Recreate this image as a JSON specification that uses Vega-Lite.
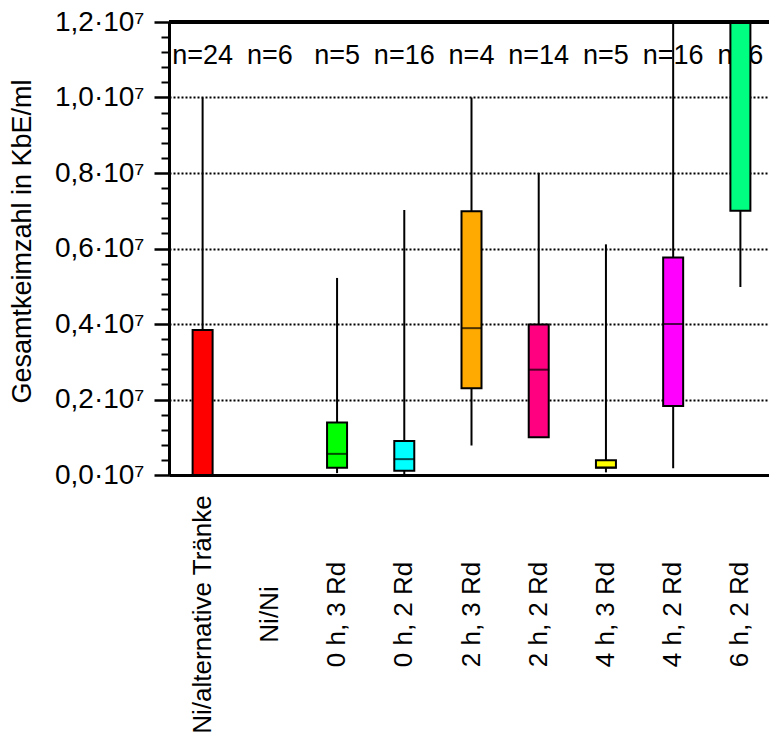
{
  "$schema": "https://vega.github.io/schema/vega-lite/v6.json",
  "autosize": "none",
  "padding": {"left": 169, "top": 22, "right": 0, "bottom": 259},
  "width": 600,
  "height": 453,
  "background": "white",
  "config": {
    "font": "Liberation Sans",
    "view": {"stroke": null},
    "axis": {"labelFont": "Liberation Sans", "titleFont": "Liberation Sans", "labelColor": "black", "titleColor": "black"},
    "axisX": {
      "labelAngle": -90, "labelAlign": "center", "labelBaseline": "middle",
      "ticks": false, "labelPadding": 139, "labelFontSize": 26,
      "domainColor": "black", "domainWidth": 3, "grid": false, "title": null, "labelLimit": 400
    }
  },
  "data": {
    "values": [
      {"group": "Ni/alternative Tränke", "lower": 0, "q1": 0, "median": 0, "q3": 3840000, "upper": 10000000, "n": "n=24"},
      {"group": "Ni/Ni", "lower": 0, "q1": 0, "median": 0, "q3": 0, "upper": 0, "n": "n=6"},
      {"group": "0 h, 3 Rd", "lower": 50000, "q1": 190000, "median": 560000, "q3": 1390000, "upper": 5220000, "n": "n=5"},
      {"group": "0 h, 2 Rd", "lower": 20000, "q1": 110000, "median": 420000, "q3": 900000, "upper": 7020000, "n": "n=16"},
      {"group": "2 h, 3 Rd", "lower": 780000, "q1": 2300000, "median": 3890000, "q3": 6990000, "upper": 10000000, "n": "n=4"},
      {"group": "2 h, 2 Rd", "lower": 1000000, "q1": 1000000, "median": 2790000, "q3": 3990000, "upper": 8000000, "n": "n=14"},
      {"group": "4 h, 3 Rd", "lower": 70000, "q1": 190000, "median": 200000, "q3": 390000, "upper": 6110000, "n": "n=5"},
      {"group": "4 h, 2 Rd", "lower": 180000, "q1": 1830000, "median": 4000000, "q3": 5760000, "upper": 13000000, "n": "n=16"},
      {"group": "6 h, 2 Rd", "lower": 4980000, "q1": 7000000, "median": 13000000, "q3": 14000000, "upper": 16000000, "n": "n=6"}
    ]
  },
  "resolve": {"axis": {"y": "independent"}},
  "layer": [
    {
      "mark": {"type": "text", "fontSize": 27, "color": "black", "baseline": "middle", "align": "center"},
      "encoding": {
        "x": {"field": "group", "type": "nominal", "sort": null, "scale": {"type": "band", "paddingInner": 0, "paddingOuter": 0, "range": [0, 605]}},
        "y": {"datum": 11100000, "type": "quantitative", "scale": {"domain": [0, 12000000], "nice": false}, "axis": null},
        "text": {"field": "n"}
      }
    },
    {
      "mark": {"type": "rule", "color": "black", "strokeWidth": 2, "clip": true},
      "encoding": {
        "x": {"field": "group", "type": "nominal", "sort": null},
        "y": {
          "field": "lower", "type": "quantitative",
          "axis": {
            "orient": "left",
            "values": [0, 2000000, 4000000, 6000000, 8000000, 10000000, 12000000],
            "labelExpr": "replace(format(datum.value/10000000, '.1f'), '.', ',') + '·10⁷'",
            "labelFontSize": 28, "labelPadding": 10,
            "tickSize": 15, "tickWidth": 2.5, "tickColor": "black",
            "domainColor": "black", "domainWidth": 3,
            "grid": true, "gridColor": "black", "gridDash": [2, 2], "gridWidth": 2, "gridOpacity": 1,
            "title": "Gesamtkeimzahl in KbE/ml", "titleFontSize": 27, "titleFontWeight": "normal",
            "titleAngle": -90, "titleAlign": "center", "titleBaseline": "middle",
            "titleX": -147, "titleY": 219
          }
        },
        "y2": {"field": "upper"}
      }
    },
    {
      "mark": {"type": "bar", "size": 20, "stroke": "black", "strokeWidth": 2, "clip": true},
      "encoding": {
        "x": {"field": "group", "type": "nominal", "sort": null},
        "y": {
          "field": "q1", "type": "quantitative",
          "axis": {
            "orient": "left",
            "values": [400000, 800000, 1200000, 1600000, 2400000, 2800000, 3200000, 3600000, 4400000, 4800000, 5200000, 5600000, 6400000, 6800000, 7200000, 7600000, 8400000, 8800000, 9200000, 9600000, 10400000, 10800000, 11200000, 11600000],
            "labels": false, "domain": false, "grid": false, "title": null,
            "tickSize": 8, "tickWidth": 2, "tickColor": "black"
          }
        },
        "y2": {"field": "q3"},
        "color": {
          "field": "group", "type": "nominal", "legend": null,
          "scale": {
            "domain": ["Ni/alternative Tränke", "Ni/Ni", "0 h, 3 Rd", "0 h, 2 Rd", "2 h, 3 Rd", "2 h, 2 Rd", "4 h, 3 Rd", "4 h, 2 Rd", "6 h, 2 Rd"],
            "range": ["#FF0000", "#FFFFFF", "#00FF00", "#00FFFF", "#FFAA00", "#FF0080", "#FFFF00", "#FF00FF", "#00FF80"]
          }
        }
      }
    },
    {
      "mark": {"type": "tick", "color": "black", "size": 21, "thickness": 2, "clip": true},
      "encoding": {
        "x": {"field": "group", "type": "nominal", "sort": null},
        "y": {"field": "median", "type": "quantitative", "axis": null}
      }
    },
    {
      "mark": {"type": "rule", "color": "black", "strokeWidth": 3},
      "encoding": {
        "y": {"datum": 12000000, "type": "quantitative", "axis": null}
      }
    }
  ]
}
